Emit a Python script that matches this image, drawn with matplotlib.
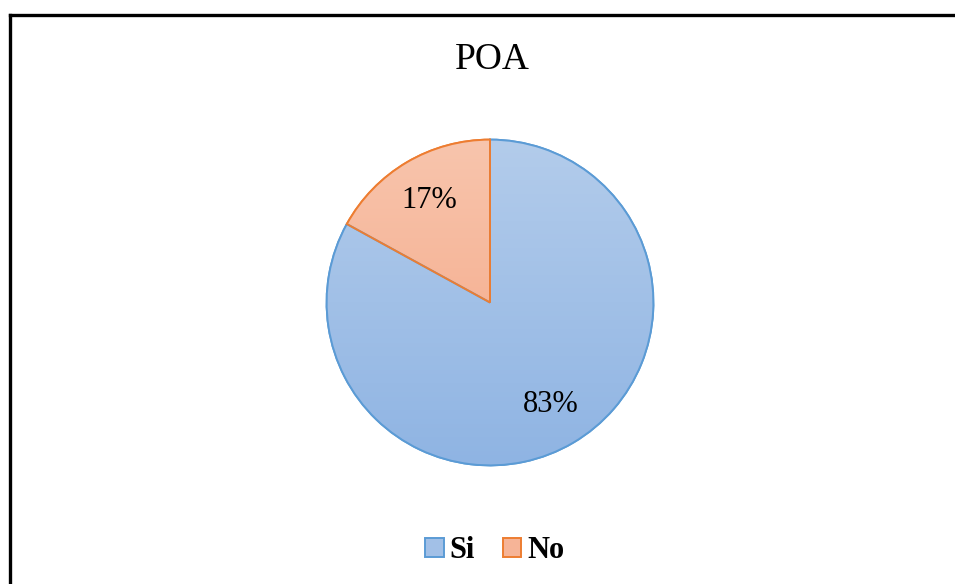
import matplotlib
matplotlib.use("Agg")
import matplotlib.pyplot as plt
import numpy as np
from matplotlib.patches import Wedge
from matplotlib.lines import Line2D
from matplotlib.colors import LinearSegmentedColormap

title = "POA"
categories = ["Si", "No"]
values = [83, 17]

face_top = ["#b3cceb", "#f8c5ad"]
face_bot = ["#8fb4e3", "#f4a482"]
face_mid = ["#a2c0e7", "#f6b497"]
edge_cols = ["#5b9bd5", "#ed7d31"]

plt.rcParams['font.family'] = ['Liberation Serif', 'DejaVu Serif']

fig = plt.figure(figsize=(9.55, 5.84), dpi=100)
W, H = 955, 584
ax = fig.add_axes([325 / W, (H - 467) / H, 330 / W, 329 / H])

wedges, texts, autotexts = ax.pie(
    values, labels=None, startangle=90, counterclock=False, radius=1,
    colors=face_mid, autopct=lambda p: f"{p:.0f}%", pctdistance=0.73,
    wedgeprops=dict(edgecolor="none", linewidth=0),
    textprops=dict(fontsize=22, color="black"))
for t in autotexts:
    t.set_zorder(5)

grad = np.linspace(1, 0, 256).reshape(-1, 1)
for w, ct, cb in zip(wedges, face_top, face_bot):
    cmap = LinearSegmentedColormap.from_list("g", [cb, ct])
    im = ax.imshow(grad, cmap=cmap, extent=[-1, 1, -1, 1], origin="upper",
                   aspect="auto", zorder=2, interpolation="bilinear")
    im.set_clip_path(w)
for w, ec in zip(wedges, edge_cols):
    outline = Wedge(w.center, w.r, w.theta1, w.theta2, fill=False,
                    edgecolor=ec, linewidth=1.4, zorder=4)
    ax.add_patch(outline)
    w.set_edgecolor(ec)
    w.set_linewidth(1.4)

ax.set_xlim(-1.01, 1.01)
ax.set_ylim(-1.01, 1.01)
ax.set_aspect("auto")
ax.axis("off")

fig.text(0.515, 1 - 69 / H, title, ha="center", va="baseline", fontsize=27)

leg = fig.legend(wedges, categories, loc="center", bbox_to_anchor=(0.518, 1 - 551 / H),
                 ncol=2, frameon=False, prop=dict(weight="bold", size=22),
                 handlelength=0.6, handleheight=0.6, handletextpad=0.2,
                 columnspacing=0.9)

# outer border (left and top edges)
fig.add_artist(Line2D([9.5 / W, 9.5 / W], [0, 1 - 15 / H], color="black", linewidth=2.4,
                      transform=fig.transFigure, solid_capstyle="projecting"))
fig.add_artist(Line2D([9.5 / W, 1], [1 - 15 / H, 1 - 15 / H], color="black", linewidth=2.4,
                      transform=fig.transFigure, solid_capstyle="projecting"))

fig.savefig("out.png", dpi=100, facecolor="white")
